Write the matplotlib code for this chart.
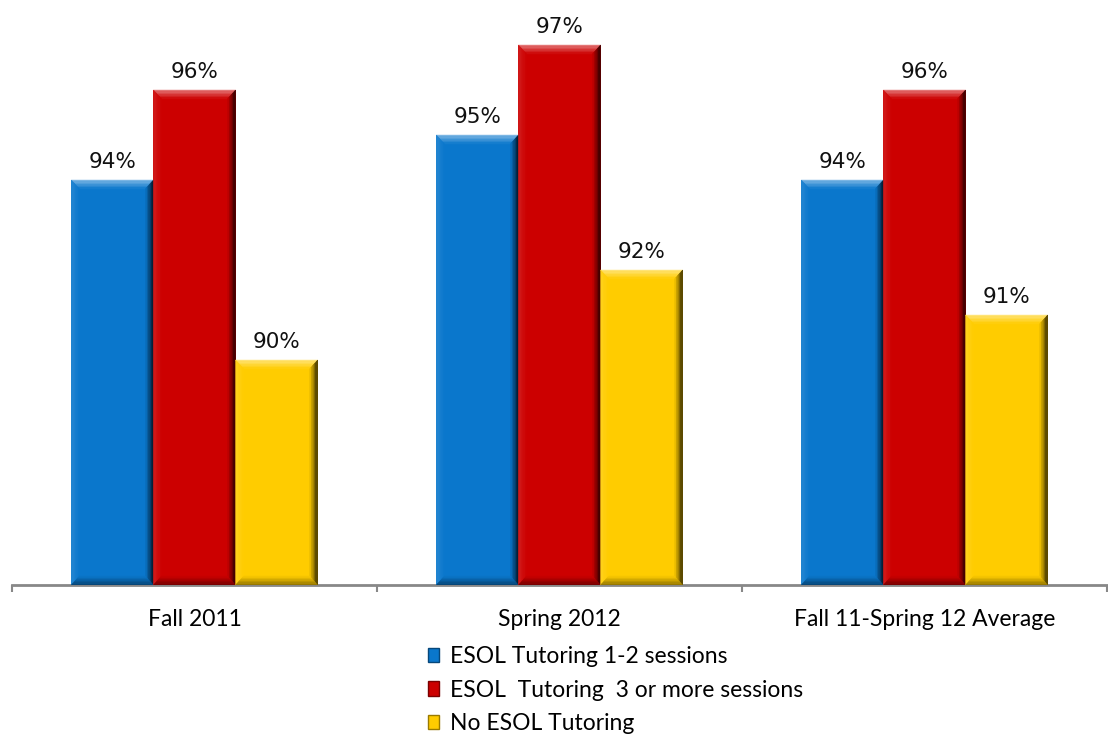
import numpy as np
import matplotlib.pyplot as plt
from matplotlib.patches import Polygon, Rectangle
from matplotlib.colors import to_rgb

categories = ['Fall 2011', 'Spring 2012', 'Fall 11-Spring 12 Average']
series_names = ['ESOL Tutoring 1-2 sessions',
                'ESOL  Tutoring  3 or more sessions',
                'No ESOL Tutoring']
tut_1_2 = [94, 95, 94]
tut_3_plus = [96, 97, 96]
no_tut = [90, 92, 91]
colors = ['#0A77CC', '#CC0000', '#FFCC00']

LABEL_FONT = ['Lato', 'DejaVu Sans']


def mix(c, target, t):
    c = np.array(to_rgb(c))
    target = np.array(to_rgb(target))
    return tuple(c * (1 - t) + target * t)


def bevel(ax, patch, base, n=6):
    # fake the 3D bevel: gradient bands along each side of the bar
    x0, y0 = patch.get_x(), patch.get_y()
    w, h = patch.get_width(), patch.get_height()
    dx, dy = w * 0.1, 0.2
    sides = {
        'top': ('white', 0.5),
        'left': ('white', 0.12),
        'right': ('black', 0.85),
        'bottom': ('black', 0.45),
    }
    for side, (tgt, amt) in sides.items():
        for i in range(n):
            a, b = i / n, (i + 1) / n
            col = mix(base, tgt, amt * (1 - (i + 0.5) / n))
            if side == 'top':
                pts = [(x0 + a*dx, y0 + h - a*dy), (x0 + w - a*dx, y0 + h - a*dy),
                       (x0 + w - b*dx, y0 + h - b*dy), (x0 + b*dx, y0 + h - b*dy)]
            elif side == 'bottom':
                pts = [(x0 + a*dx, y0 + a*dy), (x0 + w - a*dx, y0 + a*dy),
                       (x0 + w - b*dx, y0 + b*dy), (x0 + b*dx, y0 + b*dy)]
            elif side == 'left':
                pts = [(x0 + a*dx, y0 + a*dy), (x0 + a*dx, y0 + h - a*dy),
                       (x0 + b*dx, y0 + h - b*dy), (x0 + b*dx, y0 + b*dy)]
            else:
                pts = [(x0 + w - a*dx, y0 + a*dy), (x0 + w - a*dx, y0 + h - a*dy),
                       (x0 + w - b*dx, y0 + h - b*dy), (x0 + w - b*dx, y0 + b*dy)]
            ax.add_patch(Polygon(pts, closed=True, facecolor=col,
                                 edgecolor=col, linewidth=0.3, zorder=4))


fig = plt.figure(figsize=(11.08, 7.36), dpi=100)
ax = fig.add_axes([12/1108, 1 - 585/736, 1095/1108, 585/736])

base = 85
x = np.arange(len(categories))
width = 0.225
data = [tut_1_2, tut_3_plus, no_tut]

for k, (vals, c) in enumerate(zip(data, colors)):
    vals = np.array(vals)
    bars = ax.bar(x + (k - 1) * width, vals - base, width, bottom=base,
                  color=c, zorder=3, linewidth=0)
    for p, v in zip(bars, vals):
        bevel(ax, p, c)
        ax.annotate(f'{v}%', (p.get_x() + p.get_width() / 2, v),
                    xytext=(0, 6), textcoords='offset points',
                    ha='center', va='bottom', fontsize=15.5,
                    family='DejaVu Sans', color='#111111')

ax.set_xlim(-0.5, 2.5)
ax.set_ylim(base, base + 585 / 45)

for s in ['left', 'right', 'top']:
    ax.spines[s].set_visible(False)
ax.spines['bottom'].set_color('#888888')
ax.spines['bottom'].set_linewidth(2)
ax.set_yticks([])

ax.set_xticks(x)
ax.set_xticklabels(categories, family=LABEL_FONT, fontsize=16.5)
ax.tick_params(axis='x', which='major', length=0, pad=17)
ax.set_xticks(np.arange(-0.5, 3.0, 1.0), minor=True)
ax.tick_params(axis='x', which='minor', length=5, width=1.5,
               color='#888888', direction='out')

handles = [Rectangle((0, 0), 1, 1, facecolor=c, edgecolor=mix(c, 'black', 0.4),
                     linewidth=1) for c in colors]
fig.legend(handles, series_names, loc='upper left',
           bbox_to_anchor=(428/1108, 1 - 646/736), frameon=False,
           prop={'family': LABEL_FONT, 'size': 16.5},
           handlelength=0.5, handleheight=0.6, handletextpad=0.45,
           labelspacing=0.55, borderpad=0, borderaxespad=0)

fig.savefig('out.png', dpi=100)
